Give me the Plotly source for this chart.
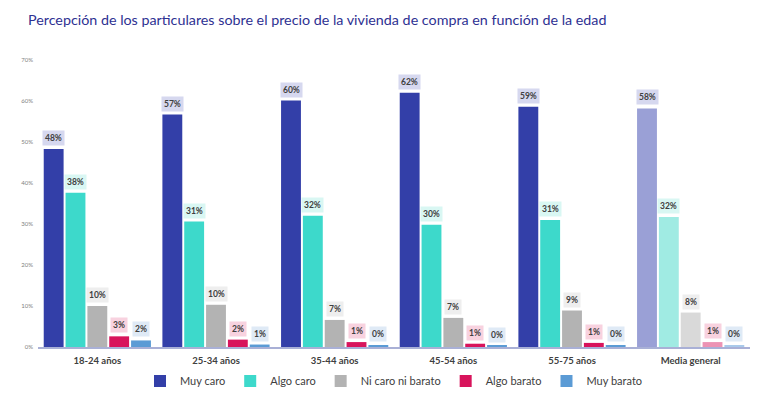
import plotly.graph_objects as go

categories = ["18-24 años", "25-34 años", "35-44 años", "45-54 años", "55-75 años", "Media general"]
series_names = ["Muy caro", "Algo caro", "Ni caro ni barato", "Algo barato", "Muy barato"]
muy_caro = [48.3, 56.7, 60.1, 62.0, 58.6, 58.2]
algo_caro = [37.6, 30.6, 32.0, 29.8, 31.0, 31.7]
ni_caro = [10.0, 10.3, 6.6, 7.1, 8.9, 8.4]
algo_barato = [2.6, 1.8, 1.2, 0.8, 1.0, 1.2]
muy_barato = [1.6, 0.6, 0.4, 0.3, 0.4, 0.4]
values = [muy_caro, algo_caro, ni_caro, algo_barato, muy_barato]

colors = ["#333fa8", "#3dd9cb", "#b3b3b3", "#d8145c", "#5b9bd5"]
light_colors = ["#9aa0d6", "#a0ebe3", "#d9d9d9", "#ec93b4", "#a9c9ea"]
label_bg = ["#d6d8ef", "#d9f7f3", "#eeeeee", "#f8d2df", "#dfeaf6"]

BARGAP = 0.08
n_series = len(series_names)
slot = (1 - BARGAP) / n_series

fig = go.Figure()
annotations = []
for i, (name, vals) in enumerate(zip(series_names, values)):
    cols = [colors[i]] * (len(categories) - 1) + [light_colors[i]]
    fig.add_trace(go.Bar(
        name=name, x=categories, y=vals,
        marker=dict(color=cols, line=dict(width=0)),
        hoverinfo="skip",
    ))
    for j, v in enumerate(vals):
        annotations.append(dict(
            x=j + (i - (n_series - 1) / 2) * slot, y=v, xref="x", yref="y",
            text=f"<b>{round(v)}%</b>", showarrow=False,
            yanchor="bottom", yshift=3,
            font=dict(family="Lato, sans-serif", size=8.5, color="#404040"),
            bgcolor=label_bg[i], borderpad=2,
        ))

# the page body adds an 8px offset; the figure is sized to fill the rest of the window
fig.update_layout(
    width=760, height=389,
    paper_bgcolor="white", plot_bgcolor="white",
    margin=dict(l=30, r=18, t=52, b=50, autoexpand=False),
    barmode="group", bargap=BARGAP, bargroupgap=0.09,
    title=dict(
        text="Percepción de los particulares sobre el precio de la vivienda de compra en función de la edad",
        x=20 / 760, xref="container", xanchor="left", y=0.969, yref="container", yanchor="middle",
        font=dict(family="Lato, sans-serif", size=14.3, color="#2e3192"),
    ),
    showlegend=True,
    legend=dict(
        orientation="h", x=0.5, xanchor="center", y=0.041, yref="container", yanchor="middle",
        font=dict(family="Lato, sans-serif", size=11, color="#404040"),
        itemwidth=30, traceorder="normal",
    ),
    annotations=annotations,
)
fig.update_xaxes(
    automargin=False,
    showgrid=False, showline=True, linecolor="#a9b0d6", linewidth=1.5,
    ticks="", ticklabelstandoff=4,
    tickfont=dict(family="Lato, sans-serif", size=9.5, color="#404040", weight="bold"),
)
fig.update_yaxes(
    automargin=False,
    range=[0, 70], dtick=10, ticksuffix="%", showgrid=False, zeroline=False,
    showline=False, tickfont=dict(family="Lato, sans-serif", size=6, color="#808080"),
    ticklabelstandoff=4,
)

fig.write_html("out.html")
